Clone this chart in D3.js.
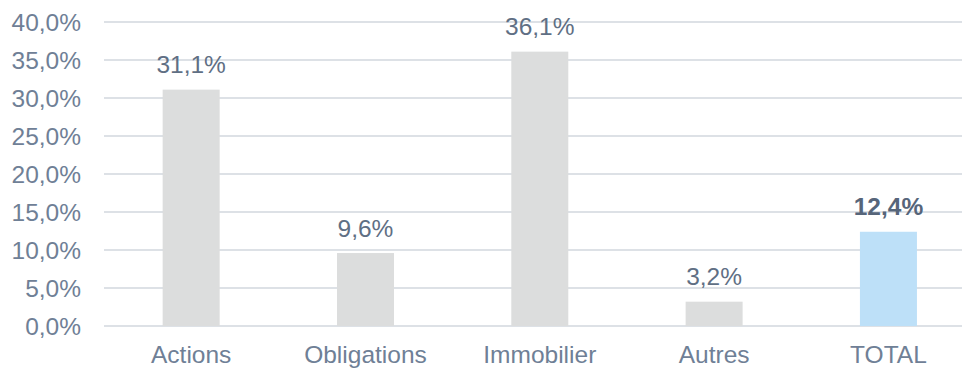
<!DOCTYPE html>
<html>
<head>
<meta charset="utf-8">
<script src="https://cdn.jsdelivr.net/npm/d3@7"></script>
<style>
  html, body { margin: 0; padding: 0; background: #fff; }
  svg { display: block; }
  text { font-family: "Liberation Sans", Arial, sans-serif; }
</style>
</head>
<body>
<svg id="chart" width="962" height="368"></svg>
<script>
// Rendement par classe d'actifs
const categories = ["Actions", "Obligations", "Immobilier", "Autres", "TOTAL"];
const values = [31.1, 9.6, 36.1, 3.2, 12.4];
const yTicks = [0, 5, 10, 15, 20, 25, 30, 35, 40];

const svg = d3.select("#chart");
const W = 962;
const plotTop = 22, plotBottom = 326, plotLeft = 104, plotRight = 975.6;

const fmt = v => v.toFixed(1).replace(".", ",") + "%";

const x = d3.scaleBand()
  .domain(categories)
  .range([plotLeft, plotRight])
  .paddingInner(0.673)
  .paddingOuter(0.3365);

const y = d3.scaleLinear().domain([0, 40]).range([plotBottom, plotTop]);

const rows = categories.map((c, i) => ({ c, v: values[i], total: c === "TOTAL" }));

// horizontal gridlines
svg.append("g")
  .selectAll("line")
  .data(yTicks)
  .join("line")
  .attr("x1", plotLeft)
  .attr("x2", W)
  .attr("y1", d => y(d))
  .attr("y2", d => y(d))
  .attr("stroke", "#dde1e6")
  .attr("stroke-width", 2);

// y axis labels
svg.append("g")
  .selectAll("text")
  .data(yTicks)
  .join("text")
  .attr("x", 81)
  .attr("y", d => y(d) + 8.5)
  .attr("text-anchor", "end")
  .attr("font-size", 24.5)
  .attr("fill", "#6f8096")
  .text(fmt);

// bars
svg.append("g")
  .selectAll("rect")
  .data(rows)
  .join("rect")
  .attr("x", d => x(d.c))
  .attr("width", x.bandwidth())
  .attr("y", d => y(d.v))
  .attr("height", d => y(0) - y(d.v))
  .attr("fill", d => d.total ? "#bde0f8" : "#dcdddd");

// value labels
svg.append("g")
  .selectAll("text")
  .data(rows)
  .join("text")
  .attr("x", d => x(d.c) + x.bandwidth() / 2)
  .attr("y", d => y(d.v) - 16.5)
  .attr("text-anchor", "middle")
  .attr("font-size", 24.5)
  .attr("font-weight", d => d.total ? "bold" : "normal")
  .attr("fill", d => d.total ? "#56657a" : "#5f6f84")
  .text(d => fmt(d.v));

// category labels
svg.append("g")
  .selectAll("text")
  .data(categories)
  .join("text")
  .attr("x", d => x(d) + x.bandwidth() / 2)
  .attr("y", 362.5)
  .attr("text-anchor", "middle")
  .attr("font-size", 24.5)
  .attr("fill", "#6f8096")
  .text(d => d);
</script>
</body>
</html>
